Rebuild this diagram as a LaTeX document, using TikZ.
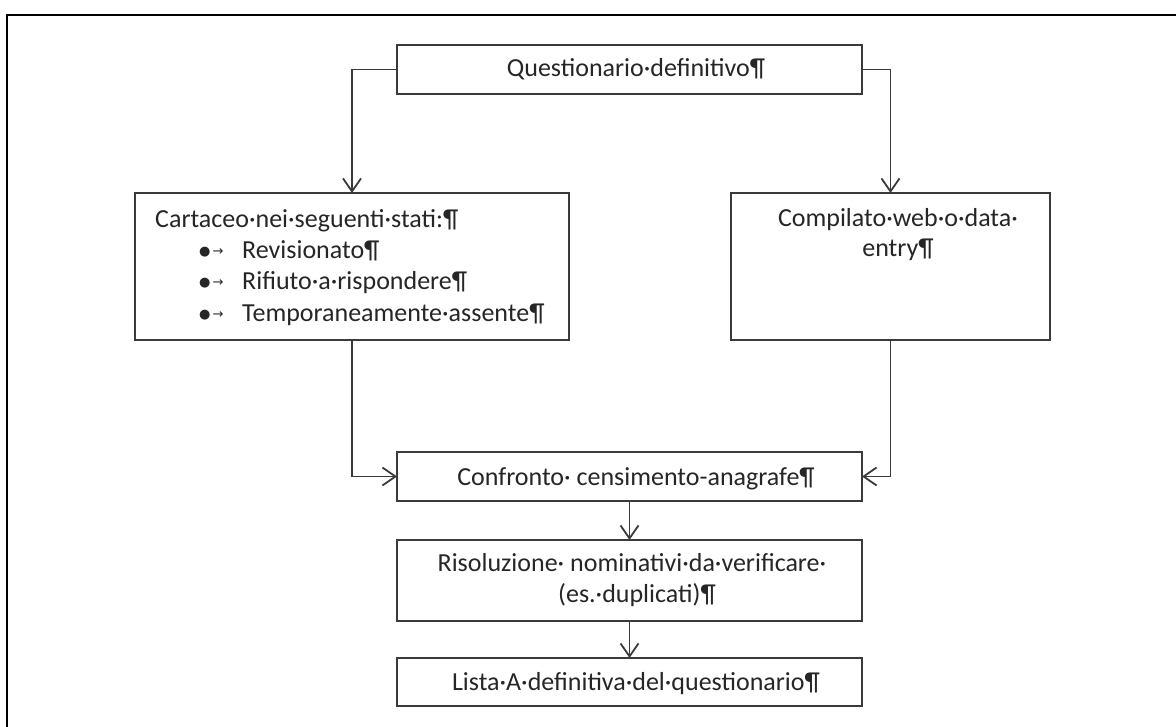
\documentclass[tikz,border=0pt]{standalone}
\usepackage{fontspec}
\setmainfont{Carlito}
\newfontfamily\symf{DejaVu Sans}
\usetikzlibrary{arrows.meta}
\definecolor{ln}{HTML}{3A3A3A}
\definecolor{tx}{HTML}{262626}
\begin{document}
\begin{tikzpicture}[x=1pt,y=-1pt,
  box/.style={draw=ln, line width=1.8pt, inner sep=0pt, outer sep=0pt, fill=white},
  conn/.style={draw=ln, line width=1.8pt, -{Straight Barb[length=13pt,width=18pt,line width=1.8pt]}},
  txt/.style={inner sep=0pt, anchor=base, text=tx, font=\fontsize{26}{31}\selectfont},
  txtl/.style={txt, anchor=base west},
  bul/.style={inner sep=0pt, anchor=base west, text=tx, font=\symf\fontsize{13}{13}\selectfont}]
\useasboundingbox (0,0) rectangle (1176,727);
\draw[line width=2.6pt, black] (7,727) -- (7,15) -- (1176,15);

% boxes
\node[box, minimum width=465pt, minimum height=49pt] (q) at (629.5,69.5) {};
\node[box, minimum width=434pt, minimum height=147pt] (c) at (352,266.5) {};
\node[box, minimum width=319pt, minimum height=147pt] (w) at (890.5,266.5) {};
\node[box, minimum width=465pt, minimum height=49pt] (f) at (629.5,476.5) {};
\node[box, minimum width=465pt, minimum height=81pt] (r) at (629.5,580.5) {};
\node[box, minimum width=465pt, minimum height=48pt] (l) at (629.5,682) {};

% texts
\node[txt] (qt) at (636,77) {Questionario·definitivo¶};
\node[txtl] (ct1) at (155,228) {Cartaceo·nei·seguenti·stati:¶};
\node[bul] (b1) at (199,256) {●\,→};
\node[txtl] (ct2) at (242,259) {Revisionato¶};
\node[bul] (b2) at (199,287) {●\,→};
\node[txtl] (ct3) at (242,290) {Rifiuto·a·rispondere¶};
\node[bul] (b3) at (199,319) {●\,→};
\node[txtl] (ct4) at (242,322) {Temporaneamente·assente¶};
\node[txt] (wt1) at (898,227) {Compilato·web·o·data·};
\node[txt] (wt2) at (898,257) {entry¶};
\node[txt] (ft) at (636,485) {Confronto· censimento-anagrafe¶};
\node[txt] (rt1) at (632,571) {Risoluzione· nominativi·da·verificare·};
\node[txt] (rt2) at (637,602) {(es.·duplicati)¶};
\node[txt] (lt) at (636,690) {Lista·A·definitiva·del·questionario¶};

% connectors
\draw[conn] (q.west) -| (c.north);
\draw[conn] (q.east) -| (w.north);
\draw[conn] (c.south) |- (f.west);
\draw[conn] (w.south) |- (f.east);
\draw[conn] (f.south) -- (r.north);
\draw[conn] (r.south) -- (l.north);
\end{tikzpicture}
\end{document}
